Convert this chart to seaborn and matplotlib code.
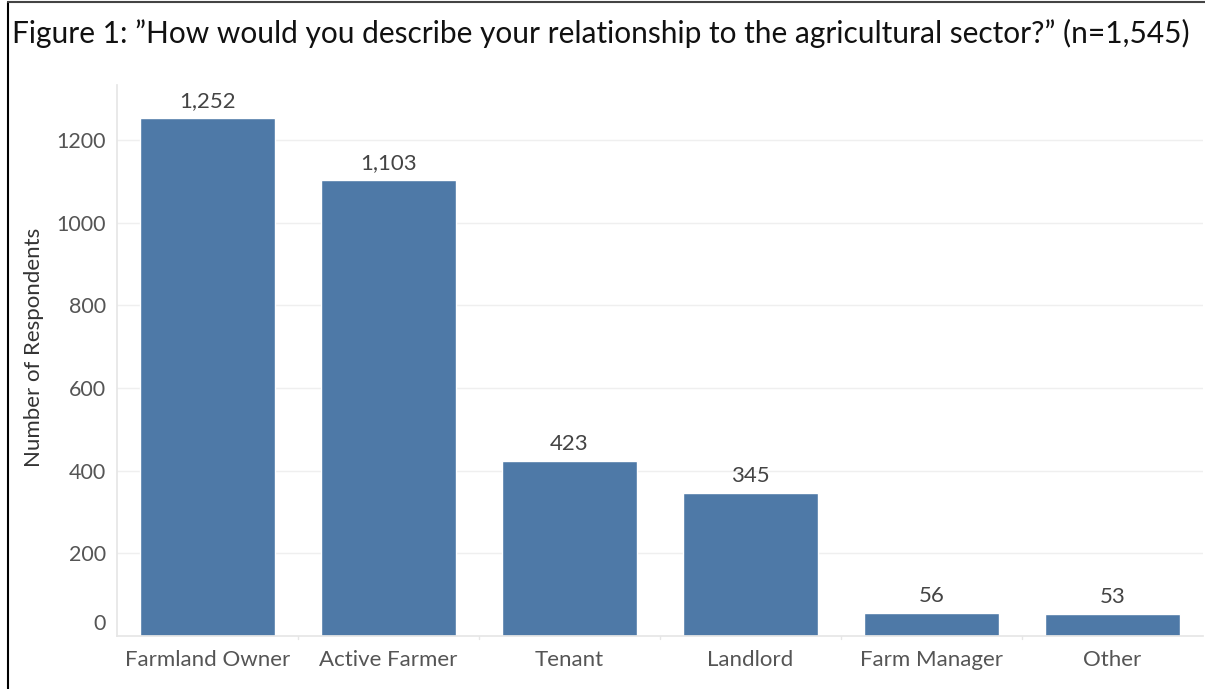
import matplotlib
matplotlib.use("Agg")
import matplotlib.pyplot as plt
import matplotlib.transforms as mtrans
import seaborn as sns
import pandas as pd
from matplotlib.lines import Line2D

categories = ["Farmland Owner", "Active Farmer", "Tenant", "Landlord", "Farm Manager", "Other"]
counts = [1252, 1103, 423, 345, 56, 53]
value_labels = ["1,252", "1,103", "423", "345", "56", "53"]
yticks = [0, 200, 400, 600, 800, 1000, 1200]

sns.set_theme(style="white")
plt.rcParams['font.family'] = ['Lato', 'DejaVu Sans']

df = pd.DataFrame({"category": categories, "count": counts})

fig = plt.figure(figsize=(12.05, 6.89), dpi=100)
ax = fig.add_axes([117/1205, 1 - 636/689, (1203-117)/1205, (636-85)/689])

sns.barplot(data=df, x="category", y="count", color="#4e79a7", saturation=1,
            width=0.75, ax=ax, order=categories)

ax.set_ylim(0, 1333)
ax.set_xlim(-0.5, len(categories) - 0.5)
ax.set_yticks(yticks)
ax.set_yticklabels([str(t) for t in yticks], fontsize=15.5, color="#555555")
ax.tick_params(axis="y", length=0, pad=8)
ax.tick_params(axis="x", length=0, pad=10, labelsize=16, labelcolor="#555555")
for t in yticks[1:]:
    ax.axhline(t, color="#efefef", lw=1, zorder=0)
for s in ["top", "right"]:
    ax.spines[s].set_visible(False)
ax.spines["left"].set_color("#e6e6e6")
ax.spines["bottom"].set_color("#e6e6e6")

# shift the "0" label up slightly, as in the reference
zero_lab = ax.get_yticklabels()[0]
zero_lab.set_transform(zero_lab.get_transform() + mtrans.ScaledTranslation(0, 14/100, fig.dpi_scale_trans))

# category separator ticks below axis
for b in [i + 0.5 for i in range(len(categories) - 1)]:
    ax.plot([b, b], [0, -8], color="#e6e6e6", lw=1, clip_on=False, transform=ax.transData)
ax.set_xlabel("")
ax.set_ylabel("Number of Respondents", fontsize=16, color="#333333")
ax.yaxis.set_label_coords((44 - 117) / 1086, (636 - 347) / 551)

for i, (v, lab) in enumerate(zip(counts, value_labels)):
    ax.annotate(lab, (i, v), xytext=(0, 5), textcoords="offset points",
                ha="center", va="bottom", fontsize=16, color="#444444")

fig.text(12/1205, 1 - 33/689, "Figure 1: \u201dHow would you describe your relationship to the agricultural sector?\u201d (n=1,545)",
         fontsize=21.5, color="#111111", va="center", ha="left")

fig.add_artist(Line2D([8/1205, 8/1205], [0, 1 - 2/689], color="black", lw=1.5, transform=fig.transFigure))
fig.add_artist(Line2D([8/1205, 1], [1 - 2/689, 1 - 2/689], color="#444444", lw=1.5, transform=fig.transFigure))

fig.savefig("out.png", dpi=100)
